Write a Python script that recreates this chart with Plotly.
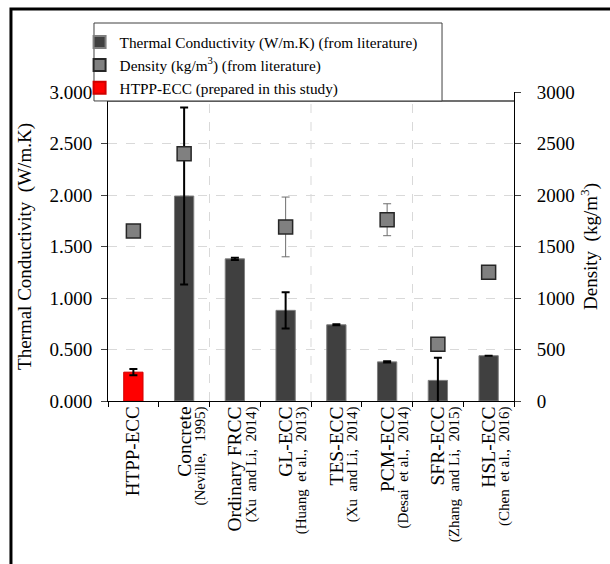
import plotly.graph_objects as go

categories = ["HTPP-ECC", "Concrete", "Ordinary FRCC", "GL-ECC", "TES-ECC", "PCM-ECC", "SFR-ECC", "HSL-ECC"]
references = ["", "(Neville,\u00a0\u00a0 1995)", "(Xu\u00a0 and Li,\u00a0 2014)", "(Huang\u00a0 et al.,\u00a0 2013)",
              "(Xu\u00a0 and Li,\u00a0 2014)", "(Desai\u00a0 et al.,\u00a0 2014)", "(Zhang\u00a0 and Li,\u00a0 2015)",
              "(Chen\u00a0 et al.,\u00a0 2016)"]
conductivity = [0.28, 1.99, 1.38, 0.88, 0.74, 0.38, 0.20, 0.44]
conductivity_err = [0.03, 0.86, 0.01, 0.175, 0.005, 0.005, 0.22, 0.0]
density = [1650, 2400, None, 1690, None, 1760, 550, 1250]
density_err = [0, 0, 0, 290, 0, 155, 0, 0]
left_ticks = [0, 0.5, 1.0, 1.5, 2.0, 2.5, 3.0]
right_ticks = [0, 500, 1000, 1500, 2000, 2500, 3000]

FONT = "Times New Roman, Liberation Serif, serif"
xs = list(range(len(categories)))
ticktext = []
label_pos = []
for i, (c, r) in enumerate(zip(categories, references)):
    if r:
        ticktext.append(f"<span style='font-size:19.5px'>{c}</span><br><span style='font-size:15px'>{r}</span>")
        label_pos.append(i + 0.2)
    else:
        ticktext.append(f"<span style='font-size:19px'>{c}</span>")
        label_pos.append(i + 0.05)

fig = go.Figure()
fig.add_trace(go.Bar(
    x=xs[1:], y=conductivity[1:], width=0.38,
    name="Thermal Conductivity (W/m.K) (from literature)",
    marker=dict(color="#404040", line=dict(color="#7f7f7f", width=1)),
    error_y=dict(type="data", array=conductivity_err[1:], color="black", thickness=2, width=4),
))
fig.add_trace(go.Scatter(
    x=xs, y=density, yaxis="y2", mode="markers",
    name="Density (kg/m<sup>3</sup>) (from literature)",
    marker=dict(symbol="square", size=14, color="#808080", line=dict(color="#262626", width=1.5)),
    error_y=dict(type="data", array=density_err, color="#6e6e6e", thickness=1, width=4),
))
fig.add_trace(go.Bar(
    x=xs[:1], y=conductivity[:1], width=0.38,
    name="HTPP-ECC (prepared in this study)",
    marker=dict(color="#ff0000", line=dict(color="#d00000", width=1)),
    error_y=dict(type="data", array=conductivity_err[:1], color="black", thickness=2, width=4),
))

shapes = []
for b in [1.5, 3.5, 5.5]:
    shapes.append(dict(type="line", xref="x", yref="paper", x0=b, x1=b, y0=0, y1=1,
                       line=dict(color="#d9d9d9", width=1, dash="dash"), layer="below"))
shapes.append(dict(type="line", xref="paper", yref="paper", x0=0, x1=1, y0=0.971, y1=0.971,
                   line=dict(color="#404040", width=1.5)))
# legend box
shapes.append(dict(type="rect", xref="paper", yref="paper", x0=-0.0345, x1=0.8227, y0=0.971, y1=1.2233,
                   line=dict(color="#404040", width=1), fillcolor="white", layer="above"))
# outer frame
shapes.append(dict(type="rect", xref="paper", yref="paper", x0=-0.239, x1=1.4, y0=-0.7, y1=1.2686,
                   line=dict(color="black", width=3), fillcolor="rgba(0,0,0,0)"))

fig.update_layout(
    width=610, height=564,
    margin=dict(l=108, r=96, t=92, b=163),
    paper_bgcolor="white", plot_bgcolor="white",
    font=dict(family=FONT, color="black", size=16),
    barmode="overlay",
    showlegend=True,
    legend=dict(x=-0.07, y=1.215, xanchor="left", yanchor="top",
                bgcolor="rgba(0,0,0,0)", borderwidth=0,
                font=dict(size=15.3, family=FONT), tracegroupgap=0, itemsizing="constant"),
    xaxis=dict(range=[-0.5, 7.5], tickmode="array", tickvals=label_pos, ticktext=ticktext,
               tickangle=-90, ticks="", showgrid=False, showline=True, linecolor="black",
               linewidth=1, zeroline=False, tickfont=dict(size=11, family=FONT),
               minor=dict(tickvals=[-0.5 + i for i in range(9)], ticks="outside",
                          ticklen=5, tickcolor="black", showgrid=False)),
    yaxis=dict(range=[0, 3], tickmode="array", tickvals=left_ticks, tickformat=".3f",
               ticks="outside", ticklen=6, showline=True, linecolor="black", linewidth=1,
               ticklabelstandoff=5,
               showgrid=True, gridcolor="#d9d9d9", griddash="dash", zeroline=False,
               title=dict(text="Thermal Conductivity  (W/m.K)", font=dict(size=19, family=FONT), standoff=12),
               tickfont=dict(size=19, family=FONT)),
    yaxis2=dict(range=[0, 3000], overlaying="y", side="right", tickmode="array", tickvals=right_ticks,
                ticks="outside", ticklen=6, showline=True, linecolor="black", linewidth=1,
                ticklabelstandoff=12,
                showgrid=False, zeroline=False,
                title=dict(text="Density  (kg/m<sup>3</sup>)", font=dict(size=19, family=FONT), standoff=9),
                tickfont=dict(size=19, family=FONT)),
    shapes=shapes,
)
fig.write_html("out.html", config={"displayModeBar": False},
               post_script="document.body.style.margin='0px';")
